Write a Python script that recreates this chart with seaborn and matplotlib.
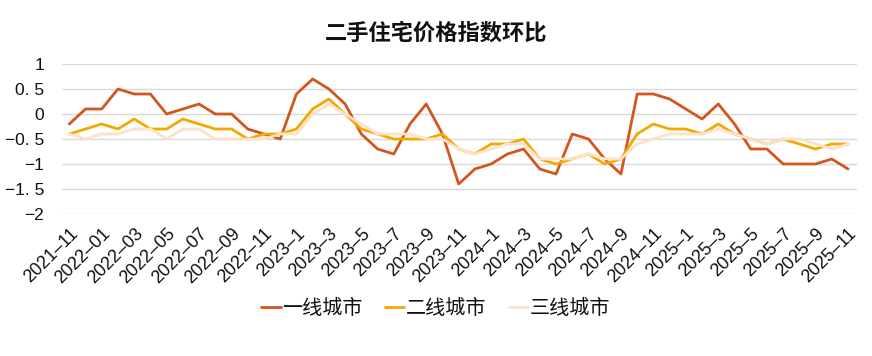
import numpy as np
import pandas as pd
import seaborn as sns
import matplotlib
matplotlib.use("Agg")
import matplotlib.pyplot as plt
from matplotlib.ticker import FixedLocator, FixedFormatter

months = ["2021-11", "2021-12"] + [f"2022-{m:02d}" for m in range(1, 13)] + \
         [f"2023-{m}" for m in range(1, 13)] + [f"2024-{m}" for m in range(1, 13)] + \
         [f"2025-{m}" for m in range(1, 12)]

tier1 = [-0.2, 0.1, 0.1, 0.5, 0.4, 0.4, 0.0, 0.1, 0.2, 0.0, 0.0, -0.3, -0.4, -0.5,
         0.4, 0.7, 0.5, 0.2, -0.4, -0.7, -0.8, -0.2, 0.2, -0.4, -1.4, -1.1, -1.0,
         -0.8, -0.7, -1.1, -1.2, -0.4, -0.5, -0.9, -1.2, 0.4, 0.4, 0.3, 0.1, -0.1,
         0.2, -0.2, -0.7, -0.7, -1.0, -1.0, -1.0, -0.9, -1.1]
tier2 = [-0.4, -0.3, -0.2, -0.3, -0.1, -0.3, -0.3, -0.1, -0.2, -0.3, -0.3, -0.5, -0.4, -0.4,
         -0.3, 0.1, 0.3, 0.0, -0.3, -0.4, -0.5, -0.5, -0.5, -0.4, -0.7, -0.8, -0.6,
         -0.6, -0.5, -0.9, -1.0, -0.9, -0.8, -1.0, -0.9, -0.4, -0.2, -0.3, -0.3, -0.4,
         -0.2, -0.4, -0.5, -0.6, -0.5, -0.6, -0.7, -0.6, -0.6]
tier3 = [-0.4, -0.5, -0.4, -0.4, -0.3, -0.3, -0.5, -0.3, -0.3, -0.5, -0.5, -0.5, -0.5, -0.4,
         -0.4, 0.0, 0.2, 0.0, -0.2, -0.4, -0.4, -0.4, -0.5, -0.5, -0.7, -0.8, -0.7,
         -0.6, -0.6, -0.9, -0.9, -0.9, -0.8, -0.9, -0.9, -0.6, -0.5, -0.4, -0.4, -0.4,
         -0.3, -0.4, -0.5, -0.6, -0.5, -0.5, -0.6, -0.7, -0.6]
series_names = ["一线城市", "二线城市", "三线城市"]
colors = ["#D2561E", "#F2A900", "#FBE2C8"]
title = "二手住宅价格指数环比"
y_ticks = [1, 0.5, 0, -0.5, -1, -1.5, -2]
y_labels = ["1", "0. 5", "0", "\u22120. 5", "\u22121", "\u22121. 5", "\u22122"]

sns.set_theme(style="white")
plt.rcParams['font.family'] = ['Liberation Sans', 'Noto Sans CJK SC', 'DejaVu Sans']
plt.rcParams['axes.unicode_minus'] = False

df = pd.DataFrame({
    "idx": list(range(len(months))) * 3,
    "value": tier1 + tier2 + tier3,
    "series": sum([[n] * len(months) for n in series_names], []),
})

fig = plt.figure(figsize=(8.72, 3.56), dpi=100)
ax = fig.add_axes([62 / 872, (356 - 214) / 356, (857 - 62) / 872, 150 / 356])
sns.lineplot(data=df, x="idx", y="value", hue="series", hue_order=series_names,
             palette=colors, linewidth=2, ax=ax, legend=True)

ax.set_xlim(-0.45, len(months) - 1 + 0.55)
ax.set_ylim(-2, 1)
ax.yaxis.set_major_locator(FixedLocator(y_ticks))
ax.yaxis.set_major_formatter(FixedFormatter(y_labels))
ax.grid(axis="y", color="#D9D9D9", linewidth=1)
ax.set_axisbelow(True)
for s in ax.spines.values():
    s.set_visible(False)
xt = list(range(0, len(months), 2))
ax.set_xticks(xt)
ax.set_xticklabels([months[i].replace("-", "\u2013") for i in xt], rotation=45, ha="right",
                   rotation_mode="anchor", fontsize=13, color="#111111")
ax.tick_params(axis="y", labelsize=12.5, pad=13, length=0, labelcolor="#111111")
ax.tick_params(axis="x", length=0, pad=8)
ax.set_xlabel("")
ax.set_ylabel("")

fig.text(0.5, 1 - 33 / 356, title, ha="center", va="center", fontsize=16,
         fontweight="bold", family=['Noto Sans CJK SC', 'DejaVu Sans'], color="#111111")

handles, labels = ax.get_legend_handles_labels()
leg = ax.legend(handles, labels, loc="center", bbox_to_anchor=(436 / 872, 1 - 309 / 356),
                bbox_transform=fig.transFigure, ncol=3, frameon=False,
                prop={"family": ['Noto Sans CJK SC', 'DejaVu Sans'], "size": 14.5},
                handlelength=0.95, handletextpad=0.1, columnspacing=1.1)
for t in leg.get_texts():
    t.set_color("#111111")

fig.savefig("out.png", dpi=100)
